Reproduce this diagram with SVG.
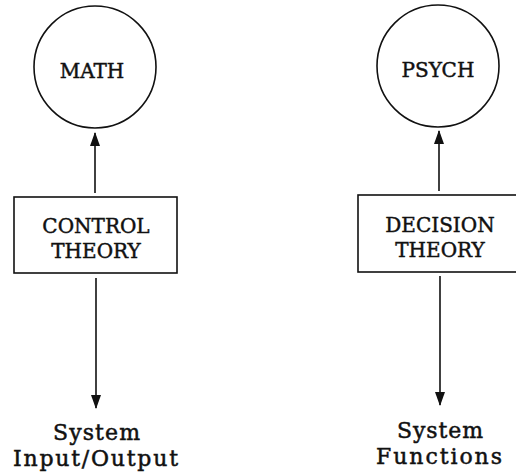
<svg xmlns="http://www.w3.org/2000/svg" width="516" height="473" viewBox="0 0 516 473">
<defs>
<style>
.shape{fill:none;stroke:#111;stroke-width:1.6}
.lbl{font-family:"DejaVu Serif","Liberation Serif",serif;font-size:20px;fill:#111;stroke:#111;stroke-width:0.45;text-anchor:middle}
.big{font-family:"DejaVu Serif","Liberation Serif",serif;font-size:22px;fill:#111;stroke:#111;stroke-width:0.5;text-anchor:middle}
.conn{stroke:#111;stroke-width:1.6;fill:none;marker-end:url(#ah)}
</style>
<marker id="ah" markerUnits="userSpaceOnUse" markerWidth="14" markerHeight="14" viewBox="0 0 14 12" refX="13" refY="6" orient="auto">
<path d="M0,1 L14,6 L0,11 Z" fill="#111"/>
</marker>
</defs>
<rect width="516" height="473" fill="#fff"/>
<g id="math">
<circle class="shape" cx="95" cy="67" r="61"/>
<text class="lbl" x="92" y="78">MATH</text>
</g>
<g id="control-theory">
<rect class="shape" x="14" y="197" width="163" height="76"/>
<text class="lbl" x="96" y="233">CONTROL</text>
<text class="lbl" x="96" y="258">THEORY</text>
</g>
<g id="system-io">
<text class="big" x="96.5" y="440" textLength="87" lengthAdjust="spacing">System</text>
<text class="big" x="95.5" y="466" textLength="165" lengthAdjust="spacing">Input/Output</text>
</g>
<g id="psych">
<circle class="shape" cx="438" cy="66" r="61"/>
<text class="lbl" x="438" y="77">PSYCH</text>
</g>
<g id="decision-theory">
<rect class="shape" x="358" y="195" width="162" height="77"/>
<text class="lbl" x="440" y="232">DECISION</text>
<text class="lbl" x="440" y="257">THEORY</text>
</g>
<g id="system-functions">
<text class="big" x="440" y="438" textLength="86" lengthAdjust="spacing">System</text>
<text class="big" x="439" y="464" textLength="126" lengthAdjust="spacing">Functions</text>
</g>
<g id="connectors">
<line class="conn" x1="95" y1="193" x2="95" y2="133"/>
<line class="conn" x1="96" y1="278" x2="96" y2="408"/>
<line class="conn" x1="439" y1="191" x2="439" y2="131"/>
<line class="conn" x1="440" y1="276" x2="440" y2="405"/>
</g>
</svg>
